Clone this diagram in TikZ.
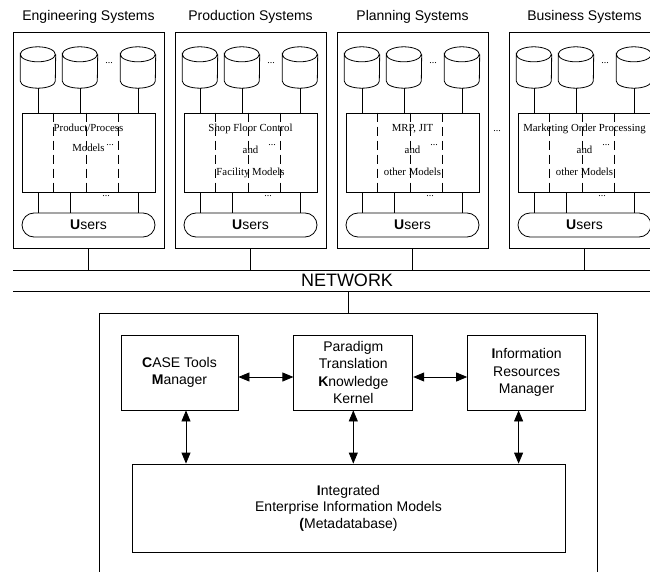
\documentclass[tikz,border=0pt]{standalone}
\usepackage{fontspec}
\setmainfont{Liberation Sans}
\newfontfamily\modelfont{Liberation Serif}
\usetikzlibrary{shapes,arrows.meta,positioning}

\begin{document}
\begin{tikzpicture}[
    x=1pt, y=-1pt,
    every node/.style={align=center},
    link/.style={line width=0.8pt},
    sysbox/.style={rectangle, draw, line width=0.8pt, minimum width=151pt, minimum height=216pt},
    systitle/.style={font=\fontsize{14}{16}\selectfont},
    dbase/.style={rectangle, minimum width=35pt, minimum height=41pt, inner sep=0pt,
        append after command={\pgfextra{\draw[link] ([yshift=-7.5pt]\tikzlastnode.north west)
            arc[start angle=180, end angle=-180, x radius=17.5pt, y radius=7.5pt]
            -- ([yshift=7pt]\tikzlastnode.south west)
            arc[start angle=180, end angle=360, x radius=17.5pt, y radius=7pt]
            -- ([yshift=-7.5pt]\tikzlastnode.north east);}}},
    modelbox/.style={rectangle, draw, line width=0.8pt, minimum width=133pt, minimum height=79pt},
    modeltext/.style={font=\modelfont\fontsize{10.8}{22}\selectfont, inner sep=0pt, anchor=north},
    dots/.style={font=\modelfont\fontsize{10}{10}\selectfont, inner sep=0pt},
    users/.style={rectangle, rounded corners=12pt, draw, line width=0.8pt, minimum width=133pt, minimum height=24pt, font=\fontsize{14}{16}\selectfont},
    partline/.style={line width=0.8pt, dash pattern=on 9pt off 5pt},
    toolbox/.style={rectangle, draw, line width=0.8pt, minimum height=75pt, inner sep=2pt, font=\fontsize{14}{17.5}\selectfont},
    biarrow/.style={line width=0.8pt, {Triangle[length=11pt,width=9pt]}-{Triangle[length=11pt,width=9pt]}}
]
\useasboundingbox (0,0) rectangle (650,572);
\clip (0,0) rectangle (650,572);

% Engineering systems
\node[sysbox] (eng) at (88.5,140) {};
\node[systitle] (engtitle) at (88.5,17) {Engineering Systems};
\node[dbase] (engdb1) at (38,67.5) {};
\node[dbase] (engdb2) at (80,67.5) {};
\node[dbase] (engdb3) at (138,67.5) {};
\node[dots] (engdots1) at (109,63) {...};
\node[modelbox] (engmod) at (88.5,152.5) {};
\node[modeltext, font=\modelfont\fontsize{10.8}{20}\selectfont] (engtext) at (88.5,124) {Product/Process\\Models};
\node[dots] (engdots2) at (110,145) {...};
\node[users] (engusr) at (88.5,225) {\textbf{U}sers};
\node[dots] (engdots3) at (106,196) {...};
\draw[partline] ([xshift=32pt]engmod.north west) -- ([xshift=32pt]engmod.south west);
\draw[partline] ([xshift=65pt]engmod.north west) -- ([xshift=65pt]engmod.south west);
\draw[partline] ([xshift=97pt]engmod.north west) -- ([xshift=97pt]engmod.south west);
\draw[link] (engdb1.south) -- (engdb1.south |- engmod.north);
\draw[link] (engdb2.south) -- (engdb2.south |- engmod.north);
\draw[link] (engdb3.south) -- (engdb3.south |- engmod.north);
\draw[link] (engdb1.south |- engmod.south) -- (engdb1.south |- engusr.north);
\draw[link] ([xshift=49pt]engmod.south west) -- ([xshift=49pt]engmod.south west |- engusr.north);
\draw[link] (engdb3.south |- engmod.south) -- (engdb3.south |- engusr.north);

% Production systems
\node[sysbox] (prod) at (250.5,140) {};
\node[systitle] (prodtitle) at (250.5,17) {Production Systems};
\node[dbase] (proddb1) at (200,67.5) {};
\node[dbase] (proddb2) at (242,67.5) {};
\node[dbase] (proddb3) at (300,67.5) {};
\node[dots] (proddots1) at (271,63) {...};
\node[modelbox] (prodmod) at (250.5,152.5) {};
\node[modeltext] (prodtext) at (250.5,124) {Shop Floor Control\\and\\Facility Models};
\node[dots] (proddots2) at (272,145) {...};
\node[users] (produsr) at (250.5,225) {\textbf{U}sers};
\node[dots] (proddots3) at (268,196) {...};
\draw[partline] ([xshift=32pt]prodmod.north west) -- ([xshift=32pt]prodmod.south west);
\draw[partline] ([xshift=65pt]prodmod.north west) -- ([xshift=65pt]prodmod.south west);
\draw[partline] ([xshift=97pt]prodmod.north west) -- ([xshift=97pt]prodmod.south west);
\draw[link] (proddb1.south) -- (proddb1.south |- prodmod.north);
\draw[link] (proddb2.south) -- (proddb2.south |- prodmod.north);
\draw[link] (proddb3.south) -- (proddb3.south |- prodmod.north);
\draw[link] (proddb1.south |- prodmod.south) -- (proddb1.south |- produsr.north);
\draw[link] ([xshift=49pt]prodmod.south west) -- ([xshift=49pt]prodmod.south west |- produsr.north);
\draw[link] (proddb3.south |- prodmod.south) -- (proddb3.south |- produsr.north);

% Planning systems
\node[sysbox] (plan) at (412.5,140) {};
\node[systitle] (plantitle) at (412.5,17) {Planning Systems};
\node[dbase] (plandb1) at (362,67.5) {};
\node[dbase] (plandb2) at (404,67.5) {};
\node[dbase] (plandb3) at (462,67.5) {};
\node[dots] (plandots1) at (433,63) {...};
\node[modelbox] (planmod) at (412.5,152.5) {};
\node[modeltext] (plantext) at (412.5,124) {MRP, JIT\\and\\other Models};
\node[dots] (plandots2) at (434,145) {...};
\node[users] (planusr) at (412.5,225) {\textbf{U}sers};
\node[dots] (plandots3) at (430,196) {...};
\draw[partline] ([xshift=32pt]planmod.north west) -- ([xshift=32pt]planmod.south west);
\draw[partline] ([xshift=65pt]planmod.north west) -- ([xshift=65pt]planmod.south west);
\draw[partline] ([xshift=97pt]planmod.north west) -- ([xshift=97pt]planmod.south west);
\draw[link] (plandb1.south) -- (plandb1.south |- planmod.north);
\draw[link] (plandb2.south) -- (plandb2.south |- planmod.north);
\draw[link] (plandb3.south) -- (plandb3.south |- planmod.north);
\draw[link] (plandb1.south |- planmod.south) -- (plandb1.south |- planusr.north);
\draw[link] ([xshift=49pt]planmod.south west) -- ([xshift=49pt]planmod.south west |- planusr.north);
\draw[link] (plandb3.south |- planmod.south) -- (plandb3.south |- planusr.north);

\node[dots] (gapdots) at (497,131) {...};

% Business systems
\node[sysbox] (bus) at (584.5,140) {};
\node[systitle] (bustitle) at (584.5,17) {Business Systems};
\node[dbase] (busdb1) at (534,67.5) {};
\node[dbase] (busdb2) at (576,67.5) {};
\node[dbase] (busdb3) at (634,67.5) {};
\node[dots] (busdots1) at (605,63) {...};
\node[modelbox] (busmod) at (584.5,152.5) {};
\node[modeltext] (bustext) at (584.5,124) {Marketing Order Processing\\and\\other Models};
\node[dots] (busdots2) at (606,145) {...};
\node[users] (bususr) at (584.5,225) {\textbf{U}sers};
\node[dots] (busdots3) at (602,196) {...};
\draw[partline] ([xshift=32pt]busmod.north west) -- ([xshift=32pt]busmod.south west);
\draw[partline] ([xshift=65pt]busmod.north west) -- ([xshift=65pt]busmod.south west);
\draw[partline] ([xshift=97pt]busmod.north west) -- ([xshift=97pt]busmod.south west);
\draw[link] (busdb1.south) -- (busdb1.south |- busmod.north);
\draw[link] (busdb2.south) -- (busdb2.south |- busmod.north);
\draw[link] (busdb3.south) -- (busdb3.south |- busmod.north);
\draw[link] (busdb1.south |- busmod.south) -- (busdb1.south |- bususr.north);
\draw[link] ([xshift=49pt]busmod.south west) -- ([xshift=49pt]busmod.south west |- bususr.north);
\draw[link] (busdb3.south |- busmod.south) -- (busdb3.south |- bususr.north);

% Network
\coordinate (netnw) at (13,270);
\coordinate (netne) at (660,270);
\coordinate (netsw) at (13,291);
\coordinate (netse) at (660,291);
\draw[link] (netnw) -- (netne);
\draw[link] (netsw) -- (netse);
\node[font=\fontsize{18}{20}\selectfont] (net) at (347,280.5) {NETWORK};
\draw[link] (eng.south) -- (eng.south |- netnw);
\draw[link] (prod.south) -- (prod.south |- netnw);
\draw[link] (plan.south) -- (plan.south |- netnw);
\draw[link] (bus.south) -- (bus.south |- netnw);

% Metadatabase system
\node[rectangle, draw, line width=0.8pt, minimum width=498pt, minimum height=267pt] (meta) at (348,446.5) {};
\draw[link] (meta.north) -- (meta.north |- netsw);
\node[toolbox, minimum width=117pt] (case) at (179.5,372.5) {\textbf{C}ASE Tools\\\textbf{M}anager};
\node[toolbox, minimum width=119pt, right=55pt of case] (para) {Paradigm\\Translation\\\textbf{K}nowledge\\Kernel};
\node[toolbox, minimum width=118pt, right=54pt of para] (info) {\textbf{I}nformation\\Resources\\Manager};
\node[rectangle, draw, line width=0.8pt, minimum width=433pt, minimum height=88pt, font=\fontsize{14}{16.5}\selectfont] (eim) at (348.5,508) {\textbf{I}ntegrated\\Enterprise Information Models\\\textbf{(}Metadatabase)};

% Connections
\draw[biarrow] ([yshift=-4.5pt]case.east) -- ([yshift=-4.5pt]para.west);
\draw[biarrow] ([yshift=-4.5pt]para.east) -- ([yshift=-4.5pt]info.west);
\draw[biarrow] ([xshift=6.5pt]case.south) -- ([xshift=6.5pt]case.south |- eim.north);
\draw[biarrow] (para.south) -- (para.south |- eim.north);
\draw[biarrow] ([xshift=-8pt]info.south) -- ([xshift=-8pt]info.south |- eim.north);

\end{tikzpicture}
\end{document}
